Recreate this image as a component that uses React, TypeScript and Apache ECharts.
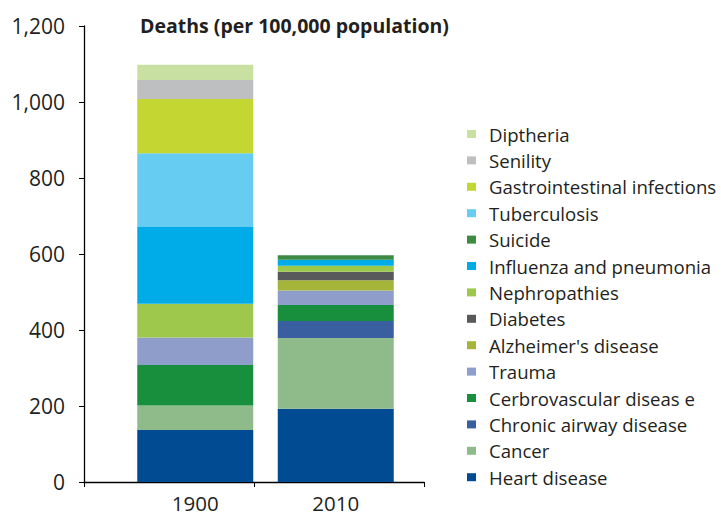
import React, { useEffect, useRef } from "react";
import * as echarts from "echarts";

const years = ["1900", "2010"];
const causes = [
  "Heart disease",
  "Cancer",
  "Chronic airway disease",
  "Cerbrovascular diseas e",
  "Trauma",
  "Alzheimer's disease",
  "Diabetes",
  "Nephropathies",
  "Influenza and pneumonia",
  "Suicide",
  "Tuberculosis",
  "Gastrointestinal infections",
  "Senility",
  "Diptheria",
];
const colors = [
  "#004b91",
  "#8fbb8a",
  "#3a5fa0",
  "#178f3d",
  "#8e9dc9",
  "#a5b539",
  "#58595b",
  "#9dc84b",
  "#00ace8",
  "#3d8a45",
  "#66ccf2",
  "#c3d632",
  "#bebfc1",
  "#c8e1a2",
];
// values per cause: [1900, 2010]
const heartDisease = [137, 193];
const cancer = [64, 186];
const chronicAirway = [0, 45];
const cerebrovascular = [107, 42];
const trauma = [72, 38];
const alzheimers = [0, 27];
const diabetes = [0, 22];
const nephropathies = [89, 16];
const influenza = [202, 16];
const suicide = [0, 12];
const tuberculosis = [194, 0];
const gastro = [143, 0];
const senility = [50, 0];
const diptheria = [40, 0];
const seriesValues = [
  heartDisease,
  cancer,
  chronicAirway,
  cerebrovascular,
  trauma,
  alzheimers,
  diabetes,
  nephropathies,
  influenza,
  suicide,
  tuberculosis,
  gastro,
  senility,
  diptheria,
];
const yTicks = { min: 0, max: 1200, interval: 200 };

const FONT = "'Open Sans', sans-serif";
const TEXT = "#231f20";

export default function App() {
  const ref = useRef<HTMLDivElement>(null);
  useEffect(() => {
    if (!ref.current) return;
    const chart = echarts.init(ref.current, null, { renderer: "svg" });
    chart.setOption({
      animation: false,
      textStyle: { fontFamily: FONT },
      title: {
        text: "Deaths (per 100,000 population)",
        left: 135,
        top: 10,
        textStyle: { fontFamily: FONT, fontSize: 19.5, fontWeight: "bold", color: TEXT },
      },
      legend: {
        orient: "vertical",
        left: 467,
        top: 124.5,
        padding: 0,
        data: causes.slice().reverse(),
        itemWidth: 9,
        itemHeight: 8,
        itemGap: 7.4,
        icon: "rect",
        textStyle: {
          fontFamily: FONT,
          fontSize: 18.6,
          color: TEXT,
          lineHeight: 18,
          padding: [0, 0, 0, 8],
        },
      },
      grid: [
        { left: 84, top: 26, width: 340, height: 456, containLabel: false, outerBoundsMode: "none" },
        { left: 125, top: 26, width: 281, height: 456, containLabel: false, outerBoundsMode: "none" },
      ],
      xAxis: [
        {
          gridIndex: 0,
          type: "category",
          data: years,
          axisLine: { lineStyle: { color: "#000", width: 1.3 } },
          axisTick: { show: true, length: 5, lineStyle: { color: "#000" } },
          axisLabel: { show: false },
        },
        {
          gridIndex: 1,
          type: "category",
          data: years,
          axisLine: { show: false },
          axisTick: { show: false },
          axisLabel: { fontFamily: FONT, fontSize: 20.5, color: TEXT, margin: 10 },
        },
      ],
      yAxis: [
        {
          gridIndex: 0,
          type: "value",
          min: yTicks.min,
          max: yTicks.max,
          interval: yTicks.interval,
          axisLine: { show: true, lineStyle: { color: "#000", width: 1.3 } },
          axisTick: { show: true, length: 5, lineStyle: { color: "#000" } },
          splitLine: { show: false },
          axisLabel: {
            fontFamily: FONT,
            fontSize: 21,
            color: TEXT,
            margin: 19,
            formatter: (v: number) => v.toLocaleString("en-US"),
          },
        },
        {
          gridIndex: 1,
          type: "value",
          min: yTicks.min,
          max: yTicks.max,
          interval: yTicks.interval,
          show: false,
          splitLine: { show: false },
        },
      ],
      series: causes.map((name, i) => ({
        name,
        type: "bar",
        stack: "total",
        xAxisIndex: 1,
        yAxisIndex: 1,
        barWidth: 116,
        itemStyle: { color: colors[i] },
        data: seriesValues[i],
      })),
    });
    return () => chart.dispose();
  }, []);
  return (
    <div
      ref={ref}
      style={{ position: "absolute", left: 0, top: 0, width: 721, height: 515 }}
    />
  );
}
